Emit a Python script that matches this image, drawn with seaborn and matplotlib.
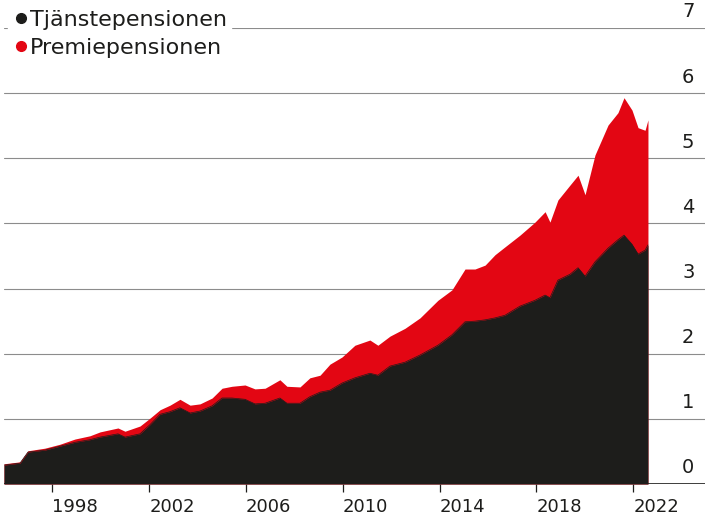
import matplotlib
matplotlib.use("Agg")
import matplotlib.pyplot as plt
import seaborn as sns
import numpy as np
from matplotlib.lines import Line2D
import matplotlib.transforms as mtrans

years = [1995.0,1995.66,1995.99,1996.69,1997.31,1997.93,1998.55,1998.97,1999.71,2000.0,2000.62,2001.03,2001.45,2001.86,2002.27,2002.69,2003.10,2003.60,2004.01,2004.42,2004.96,2005.37,2005.79,2006.40,2006.69,2007.23,2007.64,2008.06,2008.47,2008.97,2009.50,2010.12,2010.45,2010.95,2011.57,2012.19,2012.93,2013.51,2014.05,2014.46,2014.88,2015.29,2015.70,2016.32,2016.94,2017.36,2017.56,2017.89,2018.39,2018.72,2019.01,2019.42,2019.96,2020.37,2020.62,2020.95,2021.20,2021.49,2021.61]
tjanste = [0.29,0.32,0.49,0.52,0.58,0.64,0.68,0.72,0.77,0.72,0.77,0.91,1.07,1.11,1.17,1.09,1.12,1.20,1.32,1.32,1.30,1.23,1.24,1.32,1.24,1.24,1.34,1.41,1.44,1.55,1.63,1.70,1.67,1.81,1.87,1.98,2.13,2.29,2.49,2.50,2.52,2.55,2.59,2.73,2.82,2.90,2.86,3.13,3.22,3.32,3.19,3.41,3.62,3.75,3.82,3.68,3.53,3.59,3.67]
total = [0.31,0.34,0.51,0.55,0.61,0.69,0.74,0.80,0.86,0.81,0.89,1.01,1.14,1.21,1.30,1.21,1.23,1.32,1.47,1.50,1.52,1.46,1.47,1.60,1.50,1.49,1.63,1.67,1.84,1.95,2.13,2.21,2.13,2.27,2.39,2.55,2.82,2.98,3.30,3.30,3.36,3.52,3.64,3.82,4.02,4.18,4.02,4.36,4.59,4.74,4.44,5.05,5.51,5.70,5.93,5.74,5.47,5.43,5.59]
years = [y + 1 for y in years]  # axis offset: ticks mark start of labelled year
series_names = ["Tjänstepensionen", "Premiepensionen"]
xtick_years = [1998, 2002, 2006, 2010, 2014, 2018, 2022]
yticks = [0, 1, 2, 3, 4, 5, 6, 7]

BLACK = "#1d1d1b"
RED = "#e30613"

sns.set_style("white")
plt.rcParams['font.family'] = ['DejaVu Sans']

fig = plt.figure(figsize=(7.1, 5.32), dpi=100)
ax = fig.add_axes([4/710, 48/532, 701/710, 456/532])
x0 = 1996.0
ax.set_xlim(x0, x0 + 701/24.2)
ax.set_ylim(0, 7)

for v in yticks[1:]:
    ax.axhline(v, color="#8c8c8c", lw=0.8, zorder=0)

ax.fill_between(years, 0, total, color=RED, lw=0, zorder=2)
ax.fill_between(years, 0, tjanste, color=BLACK, lw=0, zorder=3)
sns.lineplot(x=years, y=tjanste, ax=ax, color=BLACK, lw=0.5, zorder=4)
ax.axhline(0, color=BLACK, lw=1.2, zorder=5)

for s in ax.spines.values():
    s.set_visible(False)
ax.set_yticks([])
ax.set_xticks(xtick_years)
ax.set_xticklabels([str(y) for y in xtick_years], fontsize=13, ha="left", color=BLACK)
ax.tick_params(axis="x", length=6, width=0.9, color=BLACK, pad=4, bottom=True)

trans = mtrans.blended_transform_factory(ax.transAxes, ax.transData)
for v in yticks:
    ax.text(0.985, v + 0.1, str(v), transform=trans, ha="right", va="bottom",
            fontsize=14, color=BLACK)

handles = [Line2D([], [], marker="o", ls="", color=BLACK, markersize=7),
           Line2D([], [], marker="o", ls="", color=RED, markersize=7)]
leg = fig.legend(handles, series_names, loc="upper left", bbox_to_anchor=(-0.005, 1.01),
                 frameon=True, facecolor="white", edgecolor="white", framealpha=1,
                 fontsize=16, handletextpad=0.0, handlelength=0.8, labelspacing=0.35,
                 borderpad=0.2)
for t in leg.get_texts():
    t.set_color(BLACK)

fig.savefig("out.png", dpi=100)
